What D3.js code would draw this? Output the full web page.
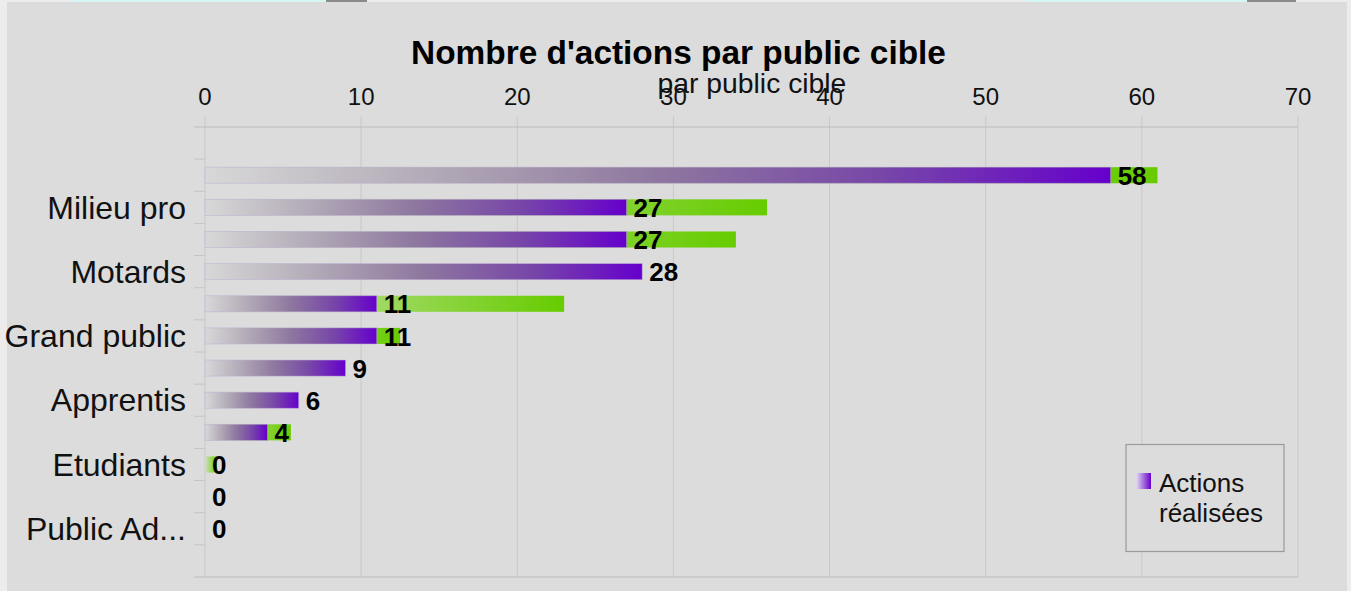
<!DOCTYPE html>
<html>
<head>
<meta charset="utf-8">
<script src="https://cdn.jsdelivr.net/npm/d3@7"></script>
<style>
  body { margin: 0; background: #ececec; }
  text { font-family: "Liberation Sans", Arial, sans-serif; }
</style>
</head>
<body>
<svg id="chart" width="1351" height="591"></svg>
<script>
// categories, top to bottom (labels that the chart skipped are left empty)
var categories = ['', '', 'Milieu pro', '', 'Motards', '', 'Grand public', '', 'Apprentis', '', 'Etudiants', '', 'Public Ad...', ''];
// purple series: actions réalisées
var realisees = [null, 58, 27, 27, 28, 11, 11, 9, 6, 4, 0, 0, 0, null];
// green series drawn behind the purple one
var prevues = [null, 61, 36, 34, 0, 23, 12.5, 0, 0, 5.5, 0.75, 0, 0, null];
var xTicks = [0, 10, 20, 30, 40, 50, 60, 70];

var svg = d3.select('#chart');
var plot = { left: 205, right: 1298, top: 127, bottom: 577 };

// chart background
svg.append('rect').attr('x', 7).attr('y', 2).attr('width', 1340).attr('height', 589).attr('fill', '#dcdcdc');

// bits of the page above the chart
svg.append('rect').attr('x', 71).attr('y', 0).attr('width', 255).attr('height', 2).attr('fill', '#d6f6f6');
svg.append('rect').attr('x', 326).attr('y', 0).attr('width', 41).attr('height', 2).attr('fill', '#8a8a8a');
svg.append('rect').attr('x', 1025).attr('y', 0).attr('width', 222).attr('height', 2).attr('fill', '#d6f6f6');
svg.append('rect').attr('x', 1247).attr('y', 0).attr('width', 49).attr('height', 2).attr('fill', '#8a8a8a');

var defs = svg.append('defs');
var purple = defs.append('linearGradient').attr('id', 'gPurple');
[[0, '#d8d8d8'], [0.25, '#b2aab7'], [0.5, '#8e779f'], [0.75, '#7746a8'], [1, '#6600cc']].forEach(function (s) {
  purple.append('stop').attr('offset', s[0]).attr('stop-color', s[1]);
});
var green = defs.append('linearGradient').attr('id', 'gGreen');
[[0, '#d2dcc8'], [0.5, '#9ed85e'], [1, '#66cc00']].forEach(function (s) {
  green.append('stop').attr('offset', s[0]).attr('stop-color', s[1]);
});
var legendGrad = defs.append('linearGradient').attr('id', 'gLegend');
[[0, '#e4dcf0'], [1, '#6600cc']].forEach(function (s) {
  legendGrad.append('stop').attr('offset', s[0]).attr('stop-color', s[1]);
});

var x = d3.scaleLinear().domain([0, 70]).range([plot.left, plot.right]);
var y = d3.scaleBand().domain(d3.range(categories.length))
  .range([plot.top, plot.bottom]).paddingInner(0.5).paddingOuter(0.25);
var step = y.step();

// vertical grid
svg.append('g').selectAll('line').data(xTicks).enter().append('line')
  .attr('x1', d => x(d)).attr('x2', d => x(d))
  .attr('y1', plot.top - 11).attr('y2', plot.bottom)
  .attr('stroke', '#c8c8c8').attr('stroke-width', 1);

// top and bottom lines
[plot.top, plot.bottom].forEach(function (yy) {
  svg.append('line').attr('x1', plot.left - 11).attr('x2', plot.right)
    .attr('y1', yy).attr('y2', yy).attr('stroke', '#bcbcbc');
});

// category boundary ticks
svg.append('g').selectAll('line').data(d3.range(1, categories.length)).enter().append('line')
  .attr('x1', plot.left - 11).attr('x2', plot.left)
  .attr('y1', d => plot.top + d * step).attr('y2', d => plot.top + d * step)
  .attr('stroke', '#c4c4c4');

// x tick labels
svg.append('g').selectAll('text').data(xTicks).enter().append('text')
  .attr('x', d => x(d)).attr('y', 105)
  .attr('text-anchor', 'middle').attr('font-size', 24).attr('fill', '#111')
  .text(d => d);

// category labels
svg.append('g').selectAll('text').data(categories).enter().append('text')
  .attr('x', 186).attr('y', (d, i) => y(i) + y.bandwidth() / 2)
  .attr('dy', '0.35em').attr('text-anchor', 'end')
  .attr('font-size', 32).attr('fill', '#111')
  .text(d => d);

var rowsPrevues = prevues.map((v, i) => ({ v: v, i: i })).filter(d => d.v);
var rowsRealisees = realisees.map((v, i) => ({ v: v, i: i })).filter(d => d.v !== null);

// green bars (behind)
svg.append('g').selectAll('rect').data(rowsPrevues).enter().append('rect')
  .attr('x', x(0)).attr('y', d => y(d.i))
  .attr('width', d => x(d.v) - x(0))
  .attr('height', y.bandwidth())
  .attr('fill', 'url(#gGreen)');

// purple bars
svg.append('g').selectAll('rect').data(rowsRealisees.filter(d => d.v > 0)).enter().append('rect')
  .attr('x', x(0)).attr('y', d => y(d.i))
  .attr('width', d => x(d.v) - x(0))
  .attr('height', y.bandwidth())
  .attr('fill', 'url(#gPurple)')
  .attr('stroke', 'rgba(190,170,215,0.6)').attr('stroke-width', 0.8);

// data labels
svg.append('g').selectAll('text').data(rowsRealisees).enter().append('text')
  .attr('x', d => x(d.v) + 7)
  .attr('y', d => y(d.i) + y.bandwidth() / 2)
  .attr('dy', '0.37em')
  .attr('font-size', 26).attr('font-weight', 'bold').attr('fill', '#000')
  .text(d => d.v);

// title
svg.append('text').attr('x', 678.5).attr('y', 64).attr('text-anchor', 'middle')
  .attr('font-size', 33.4).attr('font-weight', 'bold').attr('fill', '#000')
  .text("Nombre d'actions par public cible");
svg.append('text').attr('x', 752).attr('y', 93).attr('text-anchor', 'middle')
  .attr('font-size', 28.3).attr('fill', '#111')
  .text('par public cible');

// legend
var lg = svg.append('g');
lg.append('rect').attr('x', 1126).attr('y', 444.5).attr('width', 158).attr('height', 107)
  .attr('fill', '#dcdcdc').attr('stroke', '#9a9a9a').attr('stroke-width', 1.2);
lg.append('rect').attr('x', 1136).attr('y', 473).attr('width', 15).attr('height', 16)
  .attr('fill', 'url(#gLegend)');
lg.append('text').attr('x', 1159).attr('y', 492).attr('font-size', 26).attr('fill', '#111').text('Actions');
lg.append('text').attr('x', 1159).attr('y', 522).attr('font-size', 26).attr('fill', '#111').text('réalisées');
</script>
</body>
</html>
